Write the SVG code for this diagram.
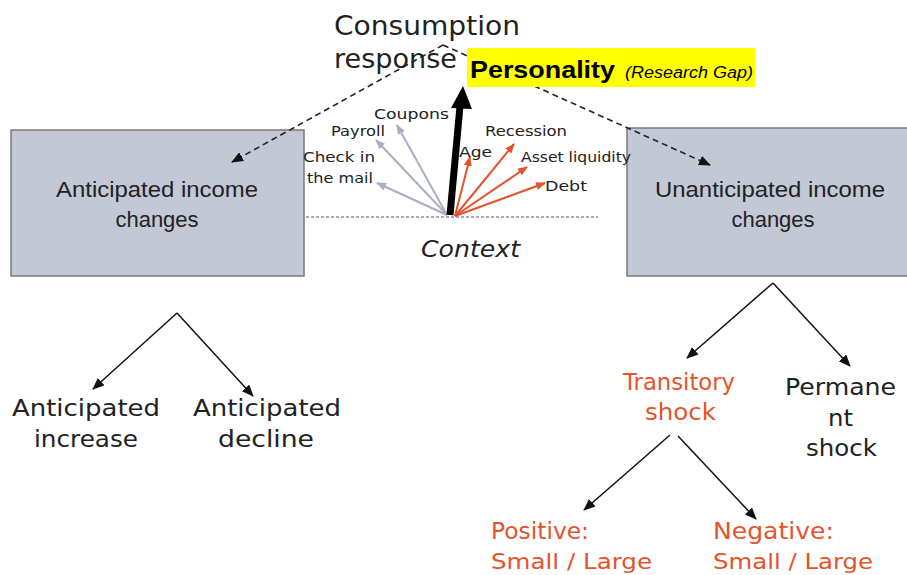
<svg xmlns="http://www.w3.org/2000/svg" width="907" height="575" viewBox="0 0 907 575">
<style>
.cg{font-family:"DejaVu Sans","Liberation Sans",sans-serif;fill:#222;}
.cal{font-family:"Liberation Sans","Open Sans",sans-serif;fill:#222;}
.box{fill:#c3c8d7;stroke:#7a7a7a;stroke-width:1.5;}
.or{fill:#e5532a;}
.blk{stroke:#111;stroke-width:1.5;fill:none;}
.dash{stroke:#222;stroke-width:1.6;fill:none;stroke-dasharray:6,4;}
.gray{stroke:#a8aec4;stroke-width:2;fill:none;}
.orl{stroke:#e5532a;stroke-width:2;fill:none;}
</style>
<defs>
<marker id="ah" markerUnits="userSpaceOnUse" markerWidth="12" markerHeight="10" refX="11" refY="5" orient="auto"><path d="M0,0 L12,5 L0,10 z" fill="#111"/></marker>
<marker id="ag" markerUnits="userSpaceOnUse" markerWidth="10" markerHeight="8" refX="9" refY="4" orient="auto"><path d="M0,0 L10,4 L0,8 z" fill="#a8aec4"/></marker>
<marker id="ao" markerUnits="userSpaceOnUse" markerWidth="10" markerHeight="8" refX="9" refY="4" orient="auto"><path d="M0,0 L10,4 L0,8 z" fill="#e5532a"/></marker>
</defs>
<rect width="907" height="575" fill="#fff"/>

<g id="node-anticipated">
<rect class="box" x="11" y="130" width="293" height="146"/>
<text class="cal" x="157" y="197" font-size="22" text-anchor="middle" textLength="202" lengthAdjust="spacingAndGlyphs">Anticipated income</text>
<text class="cal" x="157" y="227" font-size="22" text-anchor="middle">changes</text>
</g>
<g id="node-unanticipated">
<rect class="box" x="627" y="128" width="285" height="148"/>
<text class="cal" x="770" y="197" font-size="22" text-anchor="middle" textLength="230" lengthAdjust="spacingAndGlyphs">Unanticipated income</text>
<text class="cal" x="773" y="227" font-size="22" text-anchor="middle">changes</text>
</g>

<g id="connectors">
<path class="dash" d="M443,45 L232,162" marker-end="url(#ah)"/>
<path class="dash" d="M443,45 L710,165" marker-end="url(#ah)"/>
<line x1="306" y1="217" x2="598" y2="217" stroke="#555" stroke-width="1" stroke-dasharray="3,2"/>
<path class="gray" d="M447,215 L397,125" marker-end="url(#ag)"/>
<path class="gray" d="M447,215 L376,140" marker-end="url(#ag)"/>
<path class="gray" d="M447,215 L377,183" marker-end="url(#ag)"/>
<path class="orl" d="M455,216 L470,157" marker-end="url(#ao)"/>
<path class="orl" d="M455,216 L514,144" marker-end="url(#ao)"/>
<path class="orl" d="M455,216 L527,167" marker-end="url(#ao)"/>
<path class="orl" d="M455,216 L545,183" marker-end="url(#ao)"/>
<line x1="450" y1="215" x2="460" y2="106" stroke="#000" stroke-width="7"/>
<polygon points="463,86 451,108 472,109" fill="#000"/>
<path class="blk" d="M177,313 L93,389" marker-end="url(#ah)"/>
<path class="blk" d="M177,313 L253,396" marker-end="url(#ah)"/>
<path class="blk" d="M773,283 L687,358" marker-end="url(#ah)"/>
<path class="blk" d="M773,283 L850,366" marker-end="url(#ah)"/>
<path class="blk" d="M670,435 L584,510" marker-end="url(#ah)"/>
<path class="blk" d="M678,436 L756,519" marker-end="url(#ah)"/>
</g>

<g id="node-consumption">
<text class="cg" x="334" y="35" font-size="27" textLength="186" lengthAdjust="spacingAndGlyphs">Consumption</text>
<text class="cg" x="334" y="68" font-size="27" textLength="123" lengthAdjust="spacingAndGlyphs">response</text>
</g>
<g id="node-personality">
<rect x="467" y="48" width="288" height="39" fill="#ffff00"/>
<text x="470" y="78" font-family="Liberation Sans, sans-serif" font-weight="bold" font-size="24" fill="#000" textLength="145" lengthAdjust="spacingAndGlyphs">Personality</text>
<text x="625" y="78" font-family="Liberation Sans, sans-serif" font-style="italic" font-size="16" fill="#000" textLength="128" lengthAdjust="spacingAndGlyphs">(Research Gap)</text>
</g>
<g id="node-context-labels">
<text class="cg" x="374" y="119" font-size="14" textLength="75" lengthAdjust="spacingAndGlyphs">Coupons</text>
<text class="cg" x="331" y="136" font-size="14" textLength="54" lengthAdjust="spacingAndGlyphs">Payroll</text>
<text class="cg" x="303" y="162" font-size="14" textLength="72" lengthAdjust="spacingAndGlyphs">Check in</text>
<text class="cg" x="307" y="183" font-size="14" textLength="66" lengthAdjust="spacingAndGlyphs">the mail</text>
<text class="cg" x="459" y="157" font-size="14" textLength="33" lengthAdjust="spacingAndGlyphs">Age</text>
<text class="cg" x="485" y="136" font-size="14" textLength="82" lengthAdjust="spacingAndGlyphs">Recession</text>
<text class="cg" x="521" y="162" font-size="14" textLength="110" lengthAdjust="spacingAndGlyphs">Asset liquidity</text>
<text class="cg" x="545" y="191" font-size="14" textLength="42" lengthAdjust="spacingAndGlyphs">Debt</text>
<text class="cg" x="421" y="257" font-size="23" font-style="italic" textLength="99" lengthAdjust="spacingAndGlyphs">Context</text>
</g>
<g id="node-ant-increase">
<text class="cg" x="12" y="416" font-size="23" textLength="148" lengthAdjust="spacingAndGlyphs">Anticipated</text>
<text class="cg" x="34" y="447" font-size="23" textLength="104" lengthAdjust="spacingAndGlyphs">increase</text>
</g>
<g id="node-ant-decline">
<text class="cg" x="193" y="416" font-size="23" textLength="148" lengthAdjust="spacingAndGlyphs">Anticipated</text>
<text class="cg" x="218" y="447" font-size="23" textLength="96" lengthAdjust="spacingAndGlyphs">decline</text>
</g>
<g id="node-transitory">
<text class="cg or" x="623" y="390" font-size="23" textLength="112" lengthAdjust="spacingAndGlyphs">Transitory</text>
<text class="cg or" x="645" y="420" font-size="23" textLength="71" lengthAdjust="spacingAndGlyphs">shock</text>
</g>
<g id="node-permanent">
<text class="cg" x="785" y="395" font-size="23" textLength="111" lengthAdjust="spacingAndGlyphs">Permane</text>
<text class="cg" x="828" y="426" font-size="23" textLength="25" lengthAdjust="spacingAndGlyphs">nt</text>
<text class="cg" x="806" y="456" font-size="23" textLength="71" lengthAdjust="spacingAndGlyphs">shock</text>
</g>
<g id="node-positive">
<text class="cg or" x="491" y="539" font-size="23" textLength="98" lengthAdjust="spacingAndGlyphs">Positive:</text>
<text class="cg or" x="491" y="569" font-size="22" textLength="161" lengthAdjust="spacingAndGlyphs">Small / Large</text>
</g>
<g id="node-negative">
<text class="cg or" x="713" y="539" font-size="23" textLength="121" lengthAdjust="spacingAndGlyphs">Negative:</text>
<text class="cg or" x="713" y="569" font-size="22" textLength="160" lengthAdjust="spacingAndGlyphs">Small / Large</text>
</g>
</svg>
